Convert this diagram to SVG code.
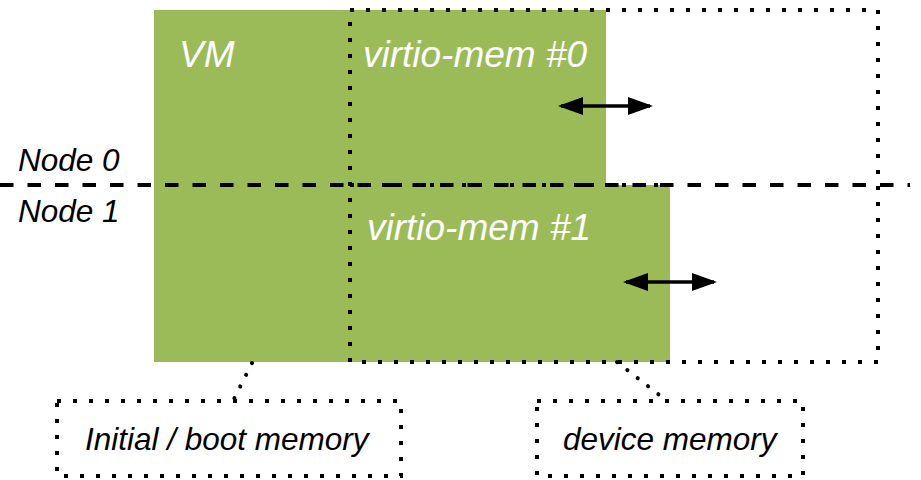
<svg xmlns="http://www.w3.org/2000/svg" width="921" height="480" viewBox="0 0 921 480">
<defs>
<style>
.green{fill:#9BBB59;stroke:none}
.dot{fill:none;stroke:#000;stroke-width:4;stroke-dasharray:4 12}
.lead{fill:none;stroke:#000;stroke-width:4;stroke-dasharray:0.1 13;stroke-linecap:round}
.dash{fill:none;stroke:#000;stroke-width:4;stroke-dasharray:13.5 14}
.wt{font-family:"Liberation Sans",Arial,sans-serif;font-style:italic;fill:#fff;font-size:37px}
.bt{font-family:"Liberation Sans",Arial,sans-serif;font-style:italic;fill:#000;font-size:31.5px}
.arr{stroke:#000;stroke-width:3.5;fill:none;marker-start:url(#ah);marker-end:url(#ah)}
</style>
<marker id="ah" markerUnits="userSpaceOnUse" markerWidth="28" markerHeight="20" viewBox="0 0 28 20" refX="22" refY="9.5" orient="auto-start-reverse">
<path d="M0,0.5 L25,9.5 L0,18.5 z" fill="#000"/>
</marker>
</defs>
<g id="vm">
<rect class="green" x="154" y="10" width="196" height="352"/>
<text class="wt" x="179" y="67">VM</text>
</g>
<g id="virtio-mem-0">
<rect class="green" x="350" y="10" width="256" height="175"/>
<text class="wt" x="363" y="67">virtio-mem #0</text>
</g>
<g id="virtio-mem-1">
<rect class="green" x="350" y="185" width="320" height="177"/>
<text class="wt" x="367" y="240">virtio-mem #1</text>
</g>
<g id="device-region">
<rect class="dot" x="350" y="10" width="528" height="352"/>
<line class="dot" x1="350" y1="185" x2="660" y2="185"/>
</g>
<g id="node-boundary">
<line class="dash" x1="0" y1="185" x2="910" y2="185"/>
</g>
<g id="node-0"><text class="bt" x="18" y="171">Node 0</text></g>
<g id="node-1"><text class="bt" x="18" y="222">Node 1</text></g>
<g id="boot-memory">
<rect class="dot" x="57" y="401" width="344" height="75"/>
<text class="bt" x="85" y="450">Initial / boot memory</text>
</g>
<g id="device-memory">
<rect class="dot" x="537" y="401" width="266" height="75"/>
<text class="bt" x="563" y="450">device memory</text>
</g>
<g id="connectors">
<line class="arr" x1="561" y1="106" x2="650" y2="106"/>
<line class="arr" x1="626" y1="282" x2="714" y2="282"/>
<line class="lead" x1="252" y1="363" x2="233" y2="401"/>
<line class="lead" x1="617" y1="362" x2="667" y2="401"/>
</g>
</svg>
